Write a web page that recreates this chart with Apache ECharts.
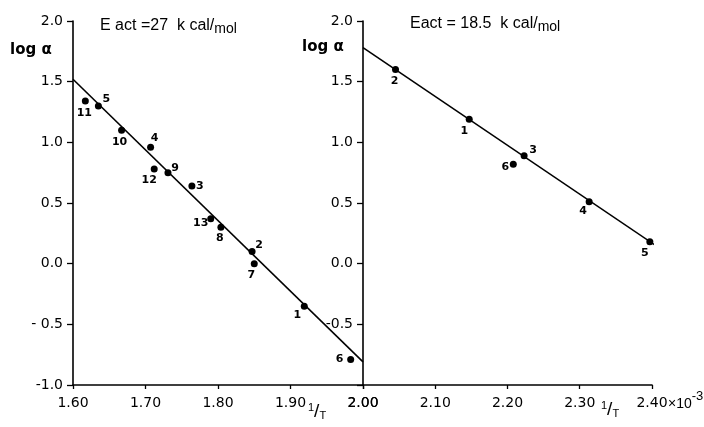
<!DOCTYPE html>
<html>
<head>
<meta charset="utf-8">
<script src="https://cdn.jsdelivr.net/npm/echarts@6/dist/echarts.min.js"></script>
<style>
  html, body { margin: 0; padding: 0; background: #fff; }
  #chart { width: 704px; height: 427px; }
</style>
</head>
<body>
<div id="chart"></div>
<script>
// left panel: Eact = 27 kcal/mol
const leftT = [1.617, 1.635, 1.667, 1.707, 1.712, 1.731, 1.764, 1.790, 1.804, 1.847, 1.850, 1.919, 1.983];
const leftLog = [1.34, 1.30, 1.10, 0.96, 0.78, 0.75, 0.64, 0.37, 0.30, 0.10, 0.00, -0.35, -0.79];
const leftNo = ['11', '5', '10', '4', '12', '9', '3', '13', '8', '2', '7', '1', '6'];
const leftFitT = [1.60, 2.00];
const leftFitLog = [1.52, -0.81];

// right panel: Eact = 18.5 kcal/mol
const rightT = [2.045, 2.147, 2.223, 2.208, 2.313, 2.397];
const rightLog = [1.60, 1.19, 0.89, 0.82, 0.51, 0.18];
const rightNo = ['2', '1', '3', '6', '4', '5'];
const rightFitT = [2.00, 2.405];
const rightFitLog = [1.78, 0.15];

const leftTicks = ['1.60', '1.70', '1.80', '1.90', '2.00'];
const rightTicks = ['2.00', '2.10', '2.20', '2.30', '2.40'];

// label offsets (px) for the point numbers
const leftOff = [[-1, 12], [8, -7], [-2, 12], [4, -9], [-5, 11], [7, -5], [8, 0],
  [-10, 4], [-1, 11], [7, -6], [-3, 11], [-7, 9], [-11, 0]];
const rightOff = [[-1, 12], [-5, 12], [9, -6], [-8, 3], [-6, 9], [-5, 11]];

const font = 'DejaVu Sans';
const chart = echarts.init(document.getElementById('chart'));

function points(xs, ys, nos, offs) {
  return xs.map((x, i) => ({
    value: [x, ys[i]],
    label: {
      show: true, formatter: nos[i], position: 'inside', offset: offs[i],
      color: '#000', fontSize: 11, fontWeight: 'bold', fontFamily: font
    }
  }));
}

function yAxis(idx, hideBottom) {
  return {
    type: 'value', gridIndex: idx, min: -1, max: 2, interval: 0.5,
    axisLine: { show: true, lineStyle: { color: '#000', width: 1.6 } },
    axisTick: { show: true, length: 6, lineStyle: { color: '#000', width: 1.3 } },
    splitLine: { show: false },
    axisLabel: {
      color: '#000', fontSize: 14, fontFamily: font, margin: 10,
      formatter: v => {
        if (hideBottom && v === -1) return '';
        if (v === -0.5 && !hideBottom) return '- 0.5';
        return v.toFixed(1);
      }
    }
  };
}

function xAxis(idx, min, labels) {
  return {
    type: 'value', gridIndex: idx, min: min, max: min + 0.4, interval: 0.1,
    axisLine: { show: true, onZero: false, lineStyle: { color: '#000', width: 1.6 } },
    axisTick: { show: true, length: 4, lineStyle: { color: '#000', width: 1.3 } },
    splitLine: { show: false },
    axisLabel: {
      color: '#000', fontSize: 14, fontFamily: font, margin: 11,
      formatter: v => labels[Math.round((v - min) * 10)]
    }
  };
}

const lineStyle = { color: '#000', width: 1.6 };
const dot = { color: '#000', opacity: 1 };
const slash = {
  a: { fontSize: 11, fill: '#000', padding: [0, 0, 8, 0] },
  b: { fontSize: 19, fill: '#000' },
  c: { fontSize: 11, fill: '#000', padding: [9, 0, 0, 0] }
};
const titleRich = {
  a: { fontSize: 16, fill: '#000' },
  b: { fontSize: 14, fill: '#000', padding: [6, 0, 0, 0] }
};

chart.setOption({
  animation: false,
  grid: [
    { left: 73, right: 341, top: 21, bottom: 42 },
    { left: 363, right: 52, top: 21, bottom: 42 }
  ],
  xAxis: [xAxis(0, 1.6, leftTicks), xAxis(1, 2.0, rightTicks)],
  yAxis: [yAxis(0, false), yAxis(1, true)],
  series: [
    {
      type: 'line', xAxisIndex: 0, yAxisIndex: 0, symbol: 'none', clip: false,
      data: leftFitT.map((x, i) => [x, leftFitLog[i]]), lineStyle: lineStyle
    },
    {
      type: 'scatter', xAxisIndex: 0, yAxisIndex: 0, symbolSize: 7,
      itemStyle: dot, data: points(leftT, leftLog, leftNo, leftOff)
    },
    {
      type: 'line', xAxisIndex: 1, yAxisIndex: 1, symbol: 'none', clip: false,
      data: rightFitT.map((x, i) => [x, rightFitLog[i]]), lineStyle: lineStyle
    },
    {
      type: 'scatter', xAxisIndex: 1, yAxisIndex: 1, symbolSize: 7,
      itemStyle: dot, data: points(rightT, rightLog, rightNo, rightOff)
    }
  ],
  graphic: [
    {
      type: 'text', left: 100, top: 18,
      style: { text: '{a|E act =27  k cal/}{b|mol}', fontFamily: font, rich: titleRich }
    },
    {
      type: 'text', left: 410, top: 16,
      style: { text: '{a|Eact = 18.5  k cal/}{b|mol}', fontFamily: font, rich: titleRich }
    },
    { type: 'text', left: 10, top: 43, style: { text: 'log α', fontFamily: font, fontSize: 15, fontWeight: 'bold', fill: '#000' } },
    { type: 'text', left: 302, top: 40, style: { text: 'log α', fontFamily: font, fontSize: 15, fontWeight: 'bold', fill: '#000' } },
    { type: 'text', left: 308, top: 402, style: { text: '{a|1}{b|/}{c|T}', fontFamily: font, rich: slash } },
    { type: 'text', left: 601, top: 400, style: { text: '{a|1}{b|/}{c|T}', fontFamily: font, rich: slash } },
    {
      type: 'text', left: 668, top: 390,
      style: {
        text: '{a|×10}{b|-3}', fontFamily: font,
        rich: { a: { fontSize: 14, fill: '#000', padding: [8, 0, 0, 0] }, b: { fontSize: 13, fill: '#000', padding: [0, 0, 8, 0] } }
      }
    }
  ]
});
</script>
</body>
</html>
